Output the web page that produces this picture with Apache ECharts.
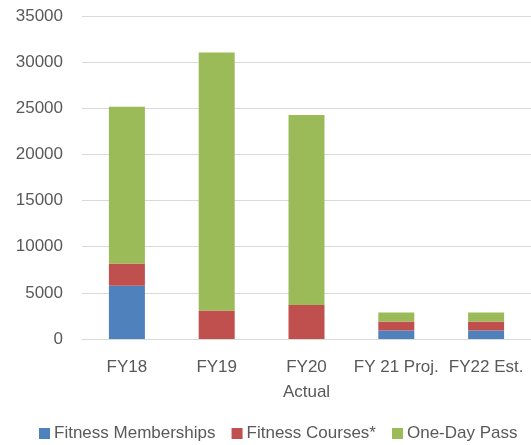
<!DOCTYPE html>
<html>
<head>
<meta charset="utf-8">
<script src="https://cdn.jsdelivr.net/npm/echarts@6/dist/echarts.min.js"></script>
<style>
  html, body { margin: 0; padding: 0; background: #fff; }
  #chart { width: 531px; height: 445px; }
</style>
</head>
<body>
<div id="chart"></div>
<script>
// Fiscal years shown along the x axis
const categories = ['FY18', 'FY19', 'FY20\nActual', 'FY 21 Proj.', 'FY22 Est.'];

// Stacked counts per fiscal year
const fitnessMemberships = [5770, 0, 0, 930, 930];
const fitnessCourses = [2410, 3100, 3680, 970, 970];
const oneDayPass = [16980, 27950, 20580, 980, 980];

// Value axis ticks
const yMin = 0;
const yMax = 35000;
const yStep = 5000;

const textColor = '#595959';
const fontFamily = 'Liberation Sans, Arial, sans-serif';

const chart = echarts.init(document.getElementById('chart'));

chart.setOption({
  animation: false,
  grid: { left: 82, right: -2, top: 16, bottom: 106, containLabel: false },
  legend: {
    top: 420,
    left: 34,
    itemWidth: 11,
    itemHeight: 11,
    itemGap: 16,
    icon: 'rect',
    textStyle: { color: textColor, fontSize: 17, fontFamily: fontFamily, padding: [0, 0, 0, -1] },
    data: ['Fitness Memberships', 'Fitness Courses*', 'One-Day Pass']
  },
  xAxis: {
    type: 'category',
    data: categories,
    axisLine: { lineStyle: { color: '#d9d9d9', width: 1 } },
    axisTick: { show: false },
    axisLabel: {
      color: textColor,
      fontSize: 17,
      fontFamily: fontFamily,
      margin: 16,
      lineHeight: 25,
      interval: 0
    }
  },
  yAxis: {
    type: 'value',
    min: yMin,
    max: yMax,
    interval: yStep,
    axisLine: { show: false },
    axisTick: { show: false },
    splitLine: { lineStyle: { color: '#d9d9d9', width: 1 } },
    axisLabel: {
      color: textColor,
      fontSize: 17,
      fontFamily: fontFamily,
      margin: 19,
      formatter: function (v) { return String(v); }
    }
  },
  series: [
    {
      name: 'Fitness Memberships',
      type: 'bar',
      stack: 'total',
      barWidth: 36,
      data: fitnessMemberships,
      itemStyle: { color: '#4f81bd' }
    },
    {
      name: 'Fitness Courses*',
      type: 'bar',
      stack: 'total',
      barWidth: 36,
      data: fitnessCourses,
      itemStyle: { color: '#c0504d' }
    },
    {
      name: 'One-Day Pass',
      type: 'bar',
      stack: 'total',
      barWidth: 36,
      data: oneDayPass,
      itemStyle: { color: '#9bbb59' }
    }
  ]
});
</script>
</body>
</html>
